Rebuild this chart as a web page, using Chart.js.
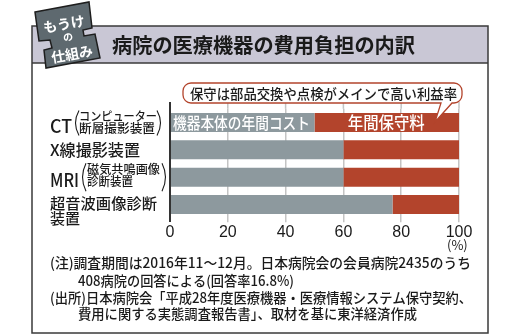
<!DOCTYPE html>
<html>
<head>
<meta charset="utf-8">
<script src="https://cdn.jsdelivr.net/npm/chart.js@4"></script>
<style>
  html, body { margin: 0; padding: 0; background: #fff; }
  #wrap { position: relative; width: 520px; height: 336px; }
</style>
</head>
<body>
<div id="wrap"><canvas id="chart" width="520" height="336"></canvas></div>
<script>
const categories = ['CT', 'X線撮影装置', 'MRI', '超音波画像診断装置'];
const bodyCost = [50, 60, 60, 77];
const maintenanceFee = [50, 40, 40, 23];
const xTicks = [0, 20, 40, 60, 80, 100];
const seriesNames = ['機器本体の年間コスト', '年間保守料'];
const titleText = '病院の医療機器の費用負担の内訳';
const calloutText = '保守は部品交換や点検がメインで高い利益率';
const notes = [
  '(注)調査期間は2016年11～12月。日本病院会の会員病院2435のうち',
  '408病院の回答による(回答率16.8%)',
  '(出所)日本病院会「平成28年度医療機器・医療情報システム保守契約、',
  '費用に関する実態調査報告書」、取材を基に東洋経済作成'
];

const JP = '"Noto Sans CJK JP", "Noto Sans", sans-serif';
const GRAY = '#8d999e';
const RED = '#b3442c';

// draw text squeezed/stretched to a given width
function fitText(ctx, text, x, y, w) {
  const m = ctx.measureText(text).width;
  ctx.save();
  ctx.translate(x, y);
  ctx.scale(w / m, 1);
  ctx.fillText(text, 0, 0);
  ctx.restore();
}

function paren(ctx, x, top, bottom, dir) {
  const mid = (top + bottom) / 2;
  ctx.beginPath();
  ctx.moveTo(x, top);
  ctx.quadraticCurveTo(x - dir * 7, mid, x, bottom);
  ctx.stroke();
}

const decor = {
  id: 'decor',
  beforeDraw(chart) {
    const ctx = chart.ctx;
    ctx.save();
    // header band + frame
    ctx.fillStyle = '#c9c7d5';
    ctx.fillRect(32, 26, 456, 37);
    ctx.strokeStyle = '#3a3a3a';
    ctx.lineWidth = 1.5;
    ctx.strokeRect(32, 26, 456, 307);
    ctx.beginPath();
    ctx.moveTo(32, 63); ctx.lineTo(488, 63);
    ctx.stroke();
    ctx.fillStyle = '#1a1a1a';
    ctx.font = 'bold 20px ' + JP;
    ctx.textBaseline = 'middle';
    fitText(ctx, titleText, 112, 45, 303);
    ctx.restore();
  },
  beforeDatasetsDraw(chart) {
    const ctx = chart.ctx;
    const x = chart.scales.x;
    const area = chart.chartArea;
    ctx.save();
    // gridlines continue above the plot area
    ctx.strokeStyle = '#c4c4c4';
    ctx.lineWidth = 1.5;
    xTicks.slice(1).forEach(v => {
      const px = x.getPixelForValue(v);
      ctx.beginPath();
      ctx.moveTo(px, 102); ctx.lineTo(px, area.top);
      ctx.stroke();
    });
    ctx.restore();
  },
  afterDatasetsDraw(chart) {
    const ctx = chart.ctx;
    const xs = chart.scales.x;
    const ys = chart.scales.y;
    ctx.save();
    // axis line
    ctx.strokeStyle = '#333';
    ctx.lineWidth = 2;
    const x0 = xs.getPixelForValue(0);
    ctx.beginPath();
    ctx.moveTo(x0, 102); ctx.lineTo(x0, 222);
    ctx.stroke();

    // labels inside the CT bar
    const g = chart.getDatasetMeta(0).data[0];
    const r = chart.getDatasetMeta(1).data[0];
    ctx.fillStyle = '#fff';
    ctx.textBaseline = 'middle';
    ctx.font = '500 16px ' + JP;
    fitText(ctx, seriesNames[0], x0 + 3, g.y, 137);
    ctx.font = '500 17px ' + JP;
    ctx.textAlign = 'left';
    fitText(ctx, seriesNames[1], (r.base + r.x) / 2 - 39, r.y, 77);

    // callout
    const bx = 183, by = 83, bw = 279, bh = 20, rad = 8;
    ctx.fillStyle = '#fff';
    ctx.strokeStyle = RED;
    ctx.lineWidth = 1.3;
    ctx.beginPath();
    ctx.moveTo(bx + rad, by);
    ctx.lineTo(bx + bw - rad, by);
    ctx.arcTo(bx + bw, by, bx + bw, by + rad, rad);
    ctx.lineTo(bx + bw, by + bh - rad);
    ctx.arcTo(bx + bw, by + bh, bx + bw - rad, by + bh, rad);
    ctx.lineTo(452, by + bh);
    ctx.lineTo(435, 122);
    ctx.lineTo(441, by + bh);
    ctx.lineTo(bx + rad, by + bh);
    ctx.arcTo(bx, by + bh, bx, by + bh - rad, rad);
    ctx.lineTo(bx, by + rad);
    ctx.arcTo(bx, by, bx + rad, by, rad);
    ctx.closePath();
    ctx.fill();
    ctx.stroke();
    ctx.fillStyle = '#1a1a1a';
    ctx.font = '500 14px ' + JP;
    fitText(ctx, calloutText, 190, by + bh / 2 + 0.5, 267);

    // category labels
    ctx.fillStyle = '#1a1a1a';
    ctx.strokeStyle = '#1a1a1a';
    ctx.lineWidth = 1.1;
    const yc = i => ys.getPixelForValue(i);
    // CT
    ctx.font = '500 18px ' + JP;
    fitText(ctx, 'CT', 50, yc(0) + 3.5, 22);
    paren(ctx, 79, yc(0) - 12, yc(0) + 13, 1);
    paren(ctx, 157, yc(0) - 12, yc(0) + 13, -1);
    ctx.font = '500 12px ' + JP;
    fitText(ctx, 'コンピューター', 79, yc(0) - 6, 78);
    fitText(ctx, '断層撮影装置', 79, yc(0) + 5.5, 76);
    // X-ray
    ctx.font = '500 16px ' + JP;
    fitText(ctx, categories[1], 50, yc(1) + 0.5, 90);
    // MRI
    ctx.font = '500 18px ' + JP;
    fitText(ctx, 'MRI', 50, yc(2) + 2.5, 29);
    paren(ctx, 86, yc(2) - 14, yc(2) + 14, 1);
    paren(ctx, 162, yc(2) - 14, yc(2) + 14, -1);
    ctx.font = '500 12px ' + JP;
    fitText(ctx, '磁気共鳴画像', 87, yc(2) - 8, 73);
    fitText(ctx, '診断装置', 87, yc(2) + 4, 46);
    // ultrasound
    ctx.font = '500 15px ' + JP;
    fitText(ctx, '超音波画像診断', 50, yc(3) - 1, 107);
    fitText(ctx, '装置', 50, yc(3) + 14, 30);

    // unit
    ctx.font = '13px ' + JP;
    ctx.fillText('(%)', 447, 245);

    // notes
    ctx.font = '500 14px ' + JP;
    fitText(ctx, notes[0], 50, 263, 421);
    fitText(ctx, notes[1], 78, 281, 216);
    fitText(ctx, notes[2], 50, 298, 422);
    fitText(ctx, notes[3], 78, 314, 339);
    ctx.restore();
  },
  afterDraw(chart) {
    const ctx = chart.ctx;
    ctx.save();
    // badge
    ctx.fillStyle = '#5e696f';
    ctx.strokeStyle = '#1e1e1e';
    ctx.lineWidth = 1.5;
    const pts = [[35, 12], [89, 2], [92, 28], [83, 30], [84, 36], [95, 34], [100, 58],
      [46, 68], [44, 50], [52, 48], [50, 40], [39, 41]];
    ctx.beginPath();
    pts.forEach((p, i) => i ? ctx.lineTo(p[0], p[1]) : ctx.moveTo(p[0], p[1]));
    ctx.closePath();
    ctx.fill();
    ctx.stroke();
    ctx.fillStyle = '#fff';
    ctx.textAlign = 'center';
    ctx.textBaseline = 'middle';
    const rot = -10 * Math.PI / 180;
    [['もうけ', 64, 24, 'bold 14px '], ['の', 68, 37, 'bold 10px '], ['仕組み', 72, 54, 'bold 14px ']]
      .forEach(([t, x, y, f]) => {
        ctx.save();
        ctx.translate(x, y);
        ctx.rotate(rot);
        ctx.font = f + JP;
        ctx.fillText(t, 0, 0);
        ctx.restore();
      });
    ctx.restore();
  }
};

new Chart(document.getElementById('chart').getContext('2d'), {
  type: 'bar',
  data: {
    labels: categories,
    datasets: [
      { label: seriesNames[0], data: bodyCost, backgroundColor: GRAY },
      { label: seriesNames[1], data: maintenanceFee, backgroundColor: RED }
    ]
  },
  options: {
    indexAxis: 'y',
    responsive: false,
    animation: false,
    events: [],
    barPercentage: 0.695,
    categoryPercentage: 1,
    layout: { padding: { left: 170, right: 61, top: 108.8, bottom: 95.8 } },
    scales: {
      x: {
        stacked: true,
        min: 0,
        max: 100,
        afterBuildTicks: s => { s.ticks = xTicks.map(v => ({ value: v })); },
        afterFit: s => { s.height = 22; },
        border: { display: false },
        grid: {
          color: c => c.tick && c.tick.value === 0 ? 'rgba(0,0,0,0)' : '#c4c4c4',
          lineWidth: 1.5,
          tickLength: 4
        },
        ticks: {
          color: '#1a1a1a',
          padding: 1,
          font: { family: 'Liberation Sans', size: 16 }
        }
      },
      y: {
        stacked: true,
        afterFit: s => { s.width = 0; },
        ticks: { display: false },
        grid: { display: false },
        border: { display: false }
      }
    },
    plugins: {
      legend: { display: false },
      tooltip: { enabled: false }
    }
  },
  plugins: [decor]
});
</script>
</body>
</html>
